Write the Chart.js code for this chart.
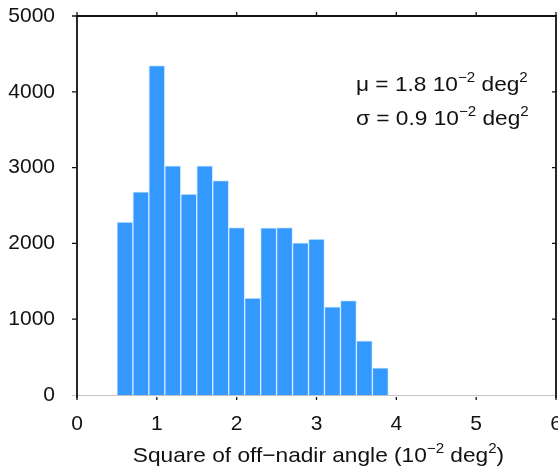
<!DOCTYPE html>
<html>
<head>
<meta charset="utf-8">
<script src="https://cdn.jsdelivr.net/npm/chart.js@4.4.1/dist/chart.umd.min.js"></script>
<style>
  html, body { margin: 0; padding: 0; background: #fff; }
  #wrap { width: 558px; height: 470px; position: relative; }
</style>
</head>
<body>
<div id="wrap"><canvas id="hist"></canvas></div>
<script>
// bin centres (10^-2 deg^2), bin width 0.2
const binCenters = [0.6, 0.8, 1.0, 1.2, 1.4, 1.6, 1.8, 2.0, 2.2, 2.4, 2.6, 2.8, 3.0, 3.2, 3.4, 3.6, 3.8];
const counts = [2280, 2680, 4345, 3025, 2650, 3025, 2830, 2210, 1280, 2205, 2210, 2008, 2058, 1162, 1244, 716, 360];
const xTicks = [0, 1, 2, 3, 4, 5, 6];
const yTicks = [0, 1000, 2000, 3000, 4000, 5000];

// text pieces: [text, superscript?]
const statLines = [
    [['\u03BC = 1.8 10', false], ['\u22122', true], [' deg', false], ['2', true]],
    [['\u03C3 = 0.9 10', false], ['\u22122', true], [' deg', false], ['2', true]]
];
const xTitle = [['Square of off\u2212nadir angle (10', false], ['\u22122', true], [' deg', false], ['2', true], [')', false]];

const FONT = '"Liberation Sans", Arial, Helvetica, sans-serif';
const FS = 21;
const STRETCH = 1.08; // reference text is a little wider than Liberation Sans

function piecesWidth(ctx, pieces) {
    let w = 0;
    pieces.forEach(p => {
        ctx.font = (p[1] ? Math.round(FS * 0.66) : FS) + 'px ' + FONT;
        w += ctx.measureText(p[0]).width;
    });
    return w * STRETCH;
}

function drawPieces(ctx, pieces, x, y) {
    ctx.save();
    ctx.translate(x, y);
    ctx.scale(STRETCH, 1);
    ctx.textBaseline = 'alphabetic';
    ctx.textAlign = 'left';
    let cx = 0;
    pieces.forEach(p => {
        if (p[1]) {
            ctx.font = Math.round(FS * 0.66) + 'px ' + FONT;
            ctx.fillText(p[0], cx, -FS * 0.45);
        } else {
            ctx.font = FS + 'px ' + FONT;
            ctx.fillText(p[0], cx, 0);
        }
        cx += ctx.measureText(p[0]).width;
    });
    ctx.restore();
}

const framePlugin = {
    id: 'frame',
    beforeDatasetsDraw(chart) {
        const { ctx, chartArea: a } = chart;
        ctx.save();
        // light baseline
        ctx.strokeStyle = '#c4c4c4';
        ctx.lineWidth = 1.2;
        ctx.beginPath();
        ctx.moveTo(a.left - 5, a.bottom + 0.5);
        ctx.lineTo(a.right, a.bottom + 0.5);
        ctx.stroke();
        ctx.restore();
    },
    afterDatasetsDraw(chart) {
        const { ctx, chartArea: a, scales } = chart;
        ctx.save();
        ctx.strokeStyle = '#111';
        ctx.lineWidth = 1.8;
        ctx.beginPath();
        ctx.moveTo(a.left, a.bottom + 3);
        ctx.lineTo(a.left, a.top);
        ctx.lineTo(a.right, a.top);
        ctx.lineTo(a.right, a.bottom + 3);
        ctx.stroke();

        ctx.lineWidth = 1.3;
        ctx.beginPath();
        yTicks.forEach(v => {
            if (v === 0) return;
            const y = scales.y.getPixelForValue(v);
            ctx.moveTo(a.left - 5, y);
            ctx.lineTo(a.left, y);
            ctx.moveTo(a.right, y);
            ctx.lineTo(a.right - 4, y);
        });
        xTicks.forEach(v => {
            const x = scales.x.getPixelForValue(v);
            ctx.moveTo(x, a.top);
            ctx.lineTo(x, a.top - 4);
            ctx.moveTo(x, a.bottom + 2);
            ctx.lineTo(x, a.bottom + 5);
        });
        ctx.stroke();

        // stats text
        ctx.fillStyle = '#111';
        statLines.forEach((line, i) => {
            drawPieces(ctx, line, 356, 91 + i * 34);
        });

        // x axis title
        const w = piecesWidth(ctx, xTitle);
        drawPieces(ctx, xTitle, 135 + (367 - w) / 2, 462);
        ctx.restore();
    }
};

new Chart(document.getElementById('hist'), {
    type: 'bar',
    data: {
        datasets: [{
            data: binCenters.map((c, i) => ({ x: c, y: counts[i] })),
            backgroundColor: '#3399ff',
            borderColor: '#d6ebff',
            borderWidth: 1,
            barPercentage: 1,
            categoryPercentage: 1
        }]
    },
    options: {
        responsive: true,
        maintainAspectRatio: false,
        animation: false,
        layout: { padding: { top: 16, right: 2, left: 0, bottom: 0 } },
        plugins: {
            legend: { display: false },
            tooltip: { enabled: false }
        },
        scales: {
            x: {
                type: 'linear',
                offset: false,
                min: 0,
                max: 6,
                grid: { display: false },
                border: { display: false },
                afterBuildTicks: s => { s.ticks = xTicks.map(v => ({ value: v })); },
                afterFit: s => { s.height = 75; s.paddingLeft = 0; s.paddingRight = 0; },
                ticks: {
                    color: '#111',
                    padding: 9,
                    maxRotation: 0,
                    font: { family: FONT, size: FS }
                }
            },
            y: {
                min: 0,
                max: 5000,
                grid: { display: false },
                border: { display: false },
                afterBuildTicks: s => { s.ticks = yTicks.map(v => ({ value: v })); },
                afterFit: s => { s.width = 77; s.paddingTop = 0; s.paddingBottom = 0; },
                ticks: {
                    color: '#111',
                    padding: 14,
                    callback: v => String(v),
                    font: { family: FONT, size: FS }
                }
            }
        }
    },
    plugins: [framePlugin]
});
</script>
</body>
</html>
